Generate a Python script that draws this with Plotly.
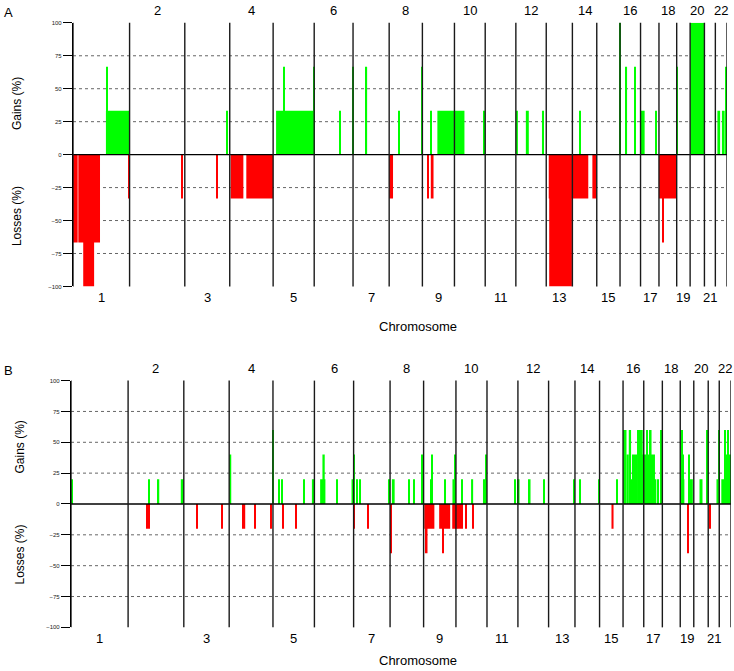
import plotly.graph_objects as go

# chromosome lengths (Mb, hg19)
chrom_len = [249.25, 243.2, 198.02, 191.15, 180.92, 171.12, 159.14, 146.36, 141.21,
             135.53, 135.01, 133.85, 115.17, 107.35, 102.53, 90.35, 81.2, 78.08,
             59.13, 63.03, 48.13, 51.3]
chrom_names = [str(i) for i in range(1, 23)]

# segments: (chromosome, start Mb, end Mb, percent)
gains_a = [
    (1, 145, 249, 33.3), (1, 147, 151, 66.7),
    (3, 186, 190, 33.3),
    (5, 13, 181, 33.3), (5, 44, 48, 66.7), (5, 176, 181, 66.7),
    (6, 112, 116, 33.3),
    (7, 0, 3, 66.7), (7, 57, 62, 66.7),
    (8, 42, 46, 33.3), (8, 142, 146, 66.7),
    (9, 35, 40, 33.3), (9, 66, 141, 33.3), (10, 0, 44, 33.3), (10, 130, 135, 33.3),
    (12, 0, 9, 33.3), (12, 44, 57, 33.3), (12, 115, 124, 33.3),
    (14, 32, 36, 33.3),
    (16, 0, 4, 100), (16, 26, 31, 66.7), (16, 62, 69, 66.7),
    (17, 0, 18, 33.3), (17, 66, 72, 33.3),
    (19, 0, 4, 66.7),
    (20, 0, 63, 100),
    (22, 9, 21, 33.3), (22, 29, 41, 33.3), (22, 46, 51, 66.7),
]
losses_a = [
    (1, 0, 20.5, 66.7), (1, 23.5, 119, 66.7), (1, 45, 93, 100), (1, 245, 249, 33.3),
    (2, 231, 235, 33.3),
    (3, 142, 146, 33.3),
    (4, 4, 60, 33.3), (4, 73, 191, 33.3),
    (8, 0, 17, 33.3),
    (9, 23, 27, 33.3), (9, 37, 49, 33.3),
    (13, 11, 115, 33.3), (13, 13, 113, 100),
    (14, 0, 70, 33.3), (14, 88, 106, 33.3),
    (18, 0, 78, 33.3), (18, 17, 21, 66.7),
]
gains_b = [
    (1, 0, 5, 20),
    (2, 88, 92, 20), (2, 130, 136, 20), (2, 230, 243, 20),
    (4, 0, 9, 40),
    (5, 0, 3, 60), (5, 23, 27, 20), (5, 37, 41, 20), (5, 134, 138, 20), (5, 170, 181, 20),
    (6, 25, 48, 20), (6, 35, 45, 40), (6, 95, 99, 20), (6, 162, 171, 20),
    (7, 0, 3, 40), (7, 13, 18, 20), (7, 25, 29, 20), (7, 150, 159, 20),
    (8, 8, 20, 20), (8, 80, 85, 20), (8, 101, 105, 20), (8, 137, 142, 40),
    (9, 31, 38, 20), (9, 35, 39, 40), (9, 90, 97, 20), (9, 126, 141, 20), (9, 134, 138, 40),
    (10, 23, 27, 20), (10, 66, 75, 20), (10, 118, 135, 20), (10, 130, 135, 40),
    (11, 120, 126, 20), (12, 0, 7, 20), (12, 44, 55, 20), (12, 111, 115, 20),
    (13, 108, 115, 20),
    (14, 18, 22, 20), (14, 101, 107, 20),
    (15, 74, 78, 20),
    (16, 0, 15, 60), (16, 15, 25, 40), (16, 25, 35, 60), (16, 35, 39, 20),
    (16, 39, 61, 40), (16, 61, 86, 60), (16, 86, 90, 40),
    (17, 0, 49, 40), (17, 12, 17, 60), (17, 27, 34, 60), (17, 49, 55, 20),
    (17, 61, 65, 20), (17, 74, 81, 60),
    (19, 0, 18, 20), (19, 4, 8, 60), (19, 8, 12, 40), (19, 36, 40, 40), (19, 40, 55, 20),
    (20, 25, 38, 20), (20, 57, 63, 60),
    (21, 36, 48, 20), (21, 45, 48, 60),
    (22, 9, 51, 20), (22, 22, 51, 40), (22, 22, 26, 60), (22, 36, 40, 60),
]
losses_b = [
    (2, 80, 84, 20), (2, 90, 94, 20),
    (3, 57, 61, 20), (3, 166, 170, 20),
    (4, 56, 70, 20), (4, 109, 113, 20), (4, 180, 184, 20),
    (5, 43, 47, 20), (5, 97, 101, 20),
    (7, 0, 3, 20), (7, 61, 65, 20),
    (8, 0, 7, 40),
    (9, 3, 47, 20), (9, 6, 17, 40), (9, 68, 116, 20), (9, 84, 88, 40), (9, 125, 141, 20),
    (10, 0, 6, 20), (10, 9, 13, 20), (10, 16, 19, 20),
    (10, 23, 26, 20), (10, 41, 45, 20), (10, 74, 78, 20),
    (15, 52, 61, 20),
    (19, 30, 34, 40),
    (21, 7, 11, 20),
]

offsets = [0.0]
for L in chrom_len:
    offsets.append(offsets[-1] + L)
total = offsets[-1]
mids = [(offsets[i] + offsets[i + 1]) / 2 for i in range(22)]

W, H = 734, 671
FONT = "Liberation Sans, Arial, sans-serif"
GREEN, RED = "#00ff00", "#ff0000"
MINW = 4.5


def bar_trace(segs, sign, color, xa, ya):
    xs, ys, ws = [], [], []
    for c, s, e, p in segs:
        w = max(e - s, MINW)
        xs.append(offsets[c - 1] + (s + e) / 2)
        ws.append(w)
        ys.append(sign * p)
    return go.Bar(x=xs, y=ys, width=ws, base=0, marker=dict(color=color, line=dict(width=0)),
                  xaxis=xa, yaxis=ya, showlegend=False, hoverinfo="skip")


fig = go.Figure()
fig.add_trace(bar_trace(gains_a, 1, GREEN, "x", "y"))
fig.add_trace(bar_trace(losses_a, -1, RED, "x", "y"))
fig.add_trace(bar_trace(gains_b, 1, GREEN, "x2", "y2"))
fig.add_trace(bar_trace(losses_b, -1, RED, "x2", "y2"))

# pixel layout of the two panels: (left, right, top, bottom)
panels = {"A": (73, 727, 20, 286), "B": (71, 731, 381, 630)}


def px_x(p):
    return p / W


def px_y(p):
    return (H - p) / H


yax = dict(range=[-100, 100], tickvals=[-100, -75, -50, -25, 0, 25, 50, 75, 100],
           ticks="outside", ticklen=9, tickwidth=1, tickcolor="black",
           showline=True, linecolor="black", linewidth=1.3, showgrid=False,
           zeroline=False, tickfont=dict(size=6, color="#222", family=FONT), fixedrange=True)
xax = dict(range=[0, total], showticklabels=False, showgrid=False, zeroline=False,
           showline=False, ticks="", fixedrange=True)

la, ra, ta, ba = panels["A"]
lb, rb, tb, bb = panels["B"]
fig.update_layout(
    width=W, height=H, margin=dict(l=0, r=0, t=0, b=0),
    paper_bgcolor="white", plot_bgcolor="white", barmode="overlay",
    font=dict(family=FONT, color="black"),
    xaxis=dict(xax, domain=[px_x(la), px_x(ra)]),
    yaxis=dict(yax, domain=[px_y(ba), px_y(ta)]),
    xaxis2=dict(xax, domain=[px_x(lb), px_x(rb)], anchor="y2"),
    yaxis2=dict(yax, domain=[px_y(bb), px_y(tb)], anchor="x2"),
)

shapes, annots = [], []
for xr, yr, (l, r, t, b), name in [("x", "y", panels["A"], "A"), ("x2", "y2", panels["B"], "B")]:
    for v in [-75, -50, -25, 25, 50, 75]:
        shapes.append(dict(type="line", xref=xr + " domain", yref=yr, x0=0, x1=1, y0=v, y1=v,
                           line=dict(color="#666", width=1, dash="dot"), layer="below"))
    shapes.append(dict(type="line", xref=xr + " domain", yref=yr, x0=0, x1=1, y0=0, y1=0,
                       line=dict(color="black", width=1.3), layer="above"))
    for o in offsets:
        shapes.append(dict(type="line", xref=xr, yref=yr + " domain", x0=o, x1=o, y0=0, y1=1,
                           line=dict(color="#1a1a1a", width=1.4), layer="above"))
    top_y = t - 12
    bot_y = b + 11
    for i, nm in enumerate(chrom_names):
        annots.append(dict(text=nm, xref=xr, yref="paper", x=mids[i],
                           y=px_y(top_y if (i + 1) % 2 == 0 else bot_y),
                           showarrow=False, xanchor="center", yanchor="middle",
                           font=dict(size=13)))
    annots.append(dict(text="Chromosome", xref="paper", yref="paper", x=px_x(418),
                       y=px_y(b + 40 if name == "A" else b + 33), showarrow=False,
                       xanchor="center", yanchor="middle", font=dict(size=13)))
    annots.append(dict(text=name, xref="paper", yref="paper", x=px_x(8), y=px_y(t - 10),
                       showarrow=False, xanchor="center", yanchor="middle", font=dict(size=13)))
    gx = 17 if name == "A" else 20
    zero = (t + b) / 2
    annots.append(dict(text="Gains (%)", xref="paper", yref="paper", x=px_x(gx),
                       y=px_y(zero - (51 if name == "A" else 57)), textangle=-90,
                       showarrow=False, xanchor="center", yanchor="middle", font=dict(size=12)))
    annots.append(dict(text="Losses (%)", xref="paper", yref="paper", x=px_x(gx),
                       y=px_y(zero + (62 if name == "A" else 51)), textangle=-90,
                       showarrow=False, xanchor="center", yanchor="middle", font=dict(size=12)))

fig.update_layout(shapes=shapes, annotations=annots)
fig.write_html("out.html", config={"displayModeBar": False},
               post_script="document.body.style.margin='0px';")
